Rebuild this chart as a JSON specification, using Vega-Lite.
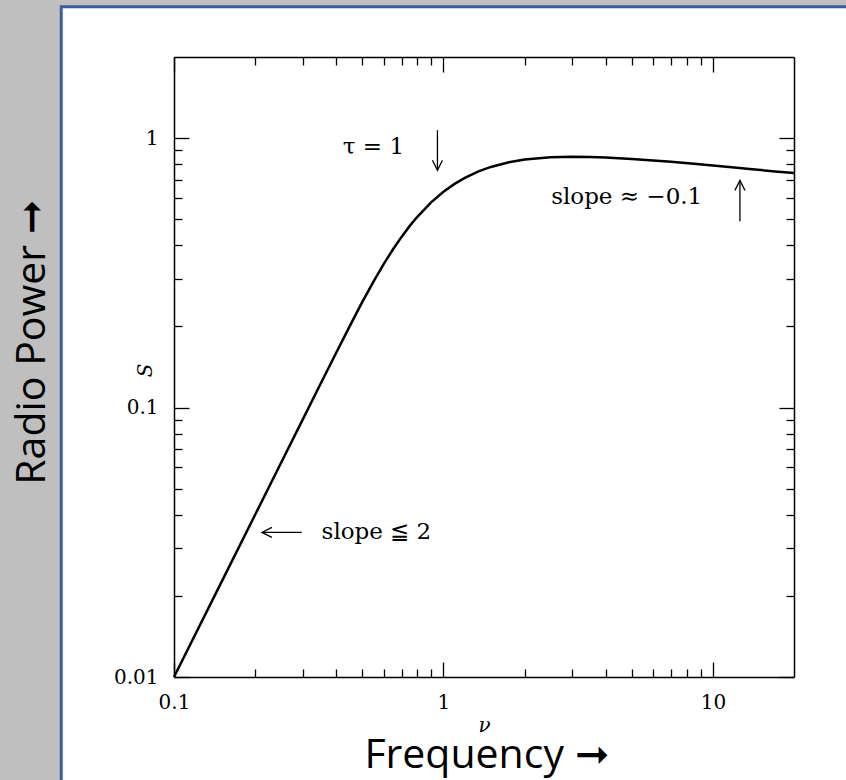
{
  "$schema": "https://vega.github.io/schema/vega-lite/v6.json",
  "width": 620,
  "height": 620,
  "autosize": {"type": "none"},
  "padding": {"left": 174, "top": 57, "right": 52, "bottom": 103},
  "background": "#bfbfbf",
  "config": {
    "view": {"stroke": null},
    "axis": {
      "domainColor": "black",
      "domainWidth": 1.5,
      "tickColor": "black",
      "tickWidth": 1.3,
      "labelColor": "black",
      "titleColor": "black",
      "labelFont": "DejaVu Serif",
      "labelFontSize": 20,
      "grid": false
    }
  },
  "datasets": {
    "panel": [{"x0": 0.03815, "x1": 40, "y0": 0.0035, "y1": 3.074}],
    "curve": [
      {"nu": 0.1, "S": 0.01},
      {"nu": 0.15, "S": 0.0225},
      {"nu": 0.2, "S": 0.04},
      {"nu": 0.25, "S": 0.0625},
      {"nu": 0.3, "S": 0.09},
      {"nu": 0.35, "S": 0.1225},
      {"nu": 0.4, "S": 0.1598},
      {"nu": 0.45, "S": 0.2015},
      {"nu": 0.5, "S": 0.2466},
      {"nu": 0.55, "S": 0.2934},
      {"nu": 0.6, "S": 0.3406},
      {"nu": 0.65, "S": 0.3868},
      {"nu": 0.7, "S": 0.4309},
      {"nu": 0.75, "S": 0.4723},
      {"nu": 0.8, "S": 0.5105},
      {"nu": 0.9, "S": 0.5774},
      {"nu": 1.0, "S": 0.6321},
      {"nu": 1.1, "S": 0.6764},
      {"nu": 1.2, "S": 0.712},
      {"nu": 1.35, "S": 0.7525},
      {"nu": 1.5, "S": 0.7817},
      {"nu": 1.75, "S": 0.8134},
      {"nu": 2, "S": 0.8324},
      {"nu": 2.5, "S": 0.849},
      {"nu": 3, "S": 0.853},
      {"nu": 3.5, "S": 0.8513},
      {"nu": 4, "S": 0.8474},
      {"nu": 5, "S": 0.8368},
      {"nu": 6, "S": 0.8262},
      {"nu": 7, "S": 0.8163},
      {"nu": 8.5, "S": 0.8029},
      {"nu": 10, "S": 0.791},
      {"nu": 12, "S": 0.7777},
      {"nu": 14, "S": 0.7666},
      {"nu": 17, "S": 0.7522},
      {"nu": 20, "S": 0.7417}
    ],
    "arrows": [
      {"x_tail": 0.95, "y_tail": 1.07, "x_tip": 0.95, "y_tip": 0.76, "dir": "down"},
      {"x_tail": 12.6, "y_tail": 0.491, "x_tip": 12.6, "y_tip": 0.697, "dir": "up"},
      {"x_tail": 0.298, "y_tail": 0.0344, "x_tip": 0.212, "y_tip": 0.0344, "dir": "left"}
    ],
    "notes": [
      {"text": "τ = 1", "x": 0.423, "y": 0.924},
      {"text": "slope ≈ −0.1", "x": 2.51, "y": 0.603},
      {"text": "slope ≦ 2", "x": 0.353, "y": 0.0344}
    ]
  },
  "resolve": {"axis": {"x": "independent", "y": "independent"}},
  "layer": [
    {
      "data": {"name": "panel"},
      "mark": {"type": "rect", "fill": "white", "stroke": "#3b5ea1", "strokeWidth": 3},
      "encoding": {
        "x": {"field": "x0", "type": "quantitative", "scale": {"type": "log", "domain": [0.1, 20]},
          "axis": {"orient": "bottom", "labels": false, "ticks": false, "domain": false, "zindex": 3,
            "title": "Frequency ➞", "titleFont": "Open Sans", "titleFontSize": 41, "titleFontWeight": "normal",
            "titleX": 312, "titleY": 78, "titleBaseline": "middle", "titleAlign": "center"}},
        "x2": {"field": "x1"},
        "y": {"field": "y0", "type": "quantitative", "scale": {"type": "log", "domain": [0.01, 2]},
          "axis": {"orient": "left", "labels": false, "ticks": false, "domain": false, "zindex": 3,
            "title": "Radio Power ➞", "titleFont": "Open Sans", "titleFontSize": 41, "titleFontWeight": "normal",
            "titleX": -142, "titleY": 285, "titleAngle": 270, "titleBaseline": "middle", "titleAlign": "center"}},
        "y2": {"field": "y1"}
      }
    },
    {
      "data": {"name": "curve"},
      "mark": {"type": "line", "color": "black", "strokeWidth": 2.5},
      "encoding": {
        "x": {"field": "nu", "type": "quantitative", "scale": {"type": "log", "domain": [0.1, 20]},
          "axis": {"orient": "bottom", "values": [0.1, 1, 10], "format": "~g", "ticks": false, "tickSize": 0,
            "domain": true, "labelPadding": 15, "labelFlush": false, "zindex": 3,
            "title": "ν", "titleFont": "DejaVu Serif", "titleFontStyle": "italic", "titleFontWeight": "normal",
            "titleFontSize": 20, "titleX": 310, "titleY": 48, "titleBaseline": "middle", "titleAlign": "center"}},
        "y": {"field": "S", "type": "quantitative", "scale": {"type": "log", "domain": [0.01, 2]},
          "axis": {"orient": "left", "values": [0.01, 0.1, 1], "format": "~g", "ticks": false, "tickSize": 0,
            "domain": true, "labelPadding": 16, "labelFlush": false, "zindex": 3,
            "title": "S", "titleFont": "DejaVu Serif", "titleFontStyle": "italic", "titleFontWeight": "normal",
            "titleFontSize": 20, "titleX": -29, "titleY": 313, "titleAngle": 270, "titleBaseline": "middle", "titleAlign": "center"}}
      }
    },
    {
      "data": {"name": "arrows"},
      "mark": {"type": "rule", "color": "black", "strokeWidth": 1.3},
      "encoding": {
        "x": {"field": "x_tail", "type": "quantitative", "scale": {"type": "log", "domain": [0.1, 20]},
          "axis": {"orient": "bottom", "values": [0.1, 0.2, 0.3, 0.4, 0.5, 0.6, 0.7, 0.8, 0.9, 1, 2, 3, 4, 5, 6, 7, 8, 9, 10],
            "tickSize": {"condition": {"test": "datum.value == 0.1 || datum.value == 1 || datum.value == 10", "value": -15}, "value": -8},
            "labels": false, "domain": false, "title": null, "zindex": 3}},
        "x2": {"field": "x_tip"},
        "y": {"field": "y_tail", "type": "quantitative", "scale": {"type": "log", "domain": [0.01, 2]},
          "axis": {"orient": "left", "values": [0.01, 0.02, 0.03, 0.04, 0.05, 0.06, 0.07, 0.08, 0.09, 0.1, 0.2, 0.3, 0.4, 0.5, 0.6, 0.7, 0.8, 0.9, 1],
            "tickSize": {"condition": {"test": "datum.value == 0.01 || datum.value == 0.1 || datum.value == 1", "value": -15}, "value": -8},
            "labels": false, "domain": false, "title": null, "zindex": 3}},
        "y2": {"field": "y_tip"}
      }
    },
    {
      "data": {"name": "arrows"},
      "mark": {"type": "point", "color": "black", "filled": false, "strokeWidth": 1.3, "size": 400, "opacity": 1},
      "encoding": {
        "x": {"field": "x_tip", "type": "quantitative", "scale": {"type": "log", "domain": [0.1, 20]},
          "axis": {"orient": "top", "values": [0.1, 0.2, 0.3, 0.4, 0.5, 0.6, 0.7, 0.8, 0.9, 1, 2, 3, 4, 5, 6, 7, 8, 9, 10],
            "tickSize": {"condition": {"test": "datum.value == 0.1 || datum.value == 1 || datum.value == 10", "value": -15}, "value": -8},
            "labels": false, "domain": true, "title": null, "zindex": 3}},
        "y": {"field": "y_tip", "type": "quantitative", "scale": {"type": "log", "domain": [0.01, 2]},
          "axis": {"orient": "right", "values": [0.01, 0.02, 0.03, 0.04, 0.05, 0.06, 0.07, 0.08, 0.09, 0.1, 0.2, 0.3, 0.4, 0.5, 0.6, 0.7, 0.8, 0.9, 1],
            "tickSize": {"condition": {"test": "datum.value == 0.01 || datum.value == 0.1 || datum.value == 1", "value": -15}, "value": -8},
            "labels": false, "domain": true, "title": null, "zindex": 3}},
        "shape": {"field": "dir", "type": "nominal",
          "scale": {"domain": ["down", "up", "left"], "range": ["M-0.5,-1L0,0L0.5,-1", "M-0.5,1L0,0L0.5,1", "M1,-0.5L0,0L1,0.5"]},
          "legend": null}
      }
    },
    {
      "data": {"name": "notes"},
      "mark": {"type": "text", "align": "left", "baseline": "middle", "font": "DejaVu Serif", "fontSize": 23, "color": "black"},
      "encoding": {
        "x": {"field": "x", "type": "quantitative", "scale": {"type": "log", "domain": [0.1, 20]}, "axis": null},
        "y": {"field": "y", "type": "quantitative", "scale": {"type": "log", "domain": [0.01, 2]}, "axis": null},
        "text": {"field": "text"}
      }
    }
  ]
}
